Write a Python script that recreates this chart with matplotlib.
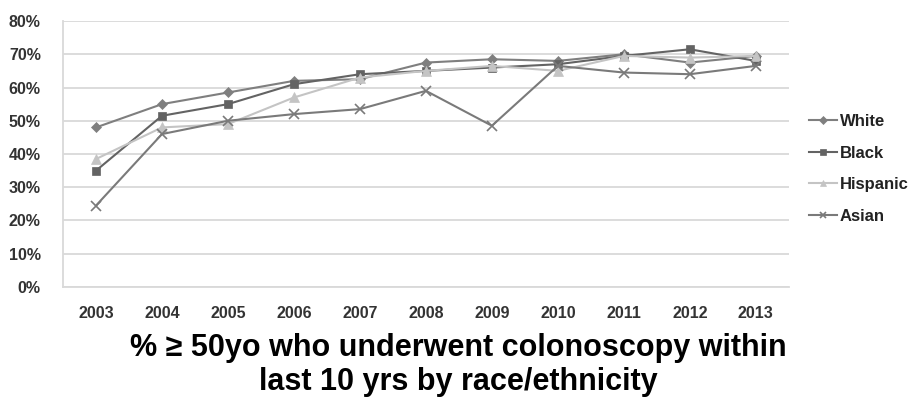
import matplotlib
matplotlib.use('Agg')
import matplotlib.pyplot as plt
from matplotlib.ticker import PercentFormatter

# Colonoscopy rates (%) by year and race/ethnicity
years = ['2003', '2004', '2005', '2006', '2007', '2008', '2009', '2010', '2011', '2012', '2013']
white = [48, 55, 58.5, 62, 62.5, 67.5, 68.5, 68, 70, 67.5, 69.5]
black = [35, 51.5, 55, 61, 64, 65, 66, 67, 69.5, 71.5, 68]
hispanic = [38.5, 48, 49, 57, 63, 65, 66.5, 65, 69.5, 69, 69.5]
asian = [24.5, 46, 50, 52, 53.5, 59, 48.5, 66.5, 64.5, 64, 66.5]

y_ticks = [0, 10, 20, 30, 40, 50, 60, 70, 80]

series = [
    ('White', white, '#7f7f7f', 'D', 5.5),
    ('Black', black, '#636363', 's', 6),
    ('Hispanic', hispanic, '#c4c4c4', '^', 6.5),
    ('Asian', asian, '#7a7a7a', 'x', 7),
]

fig = plt.figure(figsize=(9.14, 4.01), dpi=100)
ax = fig.add_axes([0.069, 0.2843, 0.794, 0.6633])

x = list(range(len(years)))
for name, vals, col, mk, ms in series:
    ax.plot(x, vals, color=col, linewidth=1.5, marker=mk, markersize=ms,
            markeredgewidth=1.2 if mk == 'x' else 0.5, markeredgecolor=col,
            markerfacecolor=col, label=name, zorder=3)

ax.set_xlim(-0.5, len(years) - 0.5)
ax.set_ylim(0, 80)
ax.set_yticks(y_ticks)
ax.yaxis.set_major_formatter(PercentFormatter(decimals=0))
ax.set_xticks(x)
ax.set_xticklabels(years)
ax.grid(axis='y', color='#d9d9d9', linewidth=1.3, zorder=0)
ax.set_axisbelow(True)
for side in ['top', 'right']:
    ax.spines[side].set_visible(False)
for side in ['left', 'bottom']:
    ax.spines[side].set_color('#d9d9d9')
    ax.spines[side].set_linewidth(1.3)
ax.tick_params(length=0, labelsize=11.5, labelcolor='#333333')
ax.tick_params(axis='y', pad=16)
ax.tick_params(axis='x', pad=14)
for lbl in ax.get_xticklabels() + ax.get_yticklabels():
    lbl.set_fontweight('bold')
    lbl.set_family('Liberation Sans')

leg = fig.legend(loc='upper left', bbox_to_anchor=(0.885, 0.716), frameon=False,
                 borderpad=0, borderaxespad=0, markerscale=0.7,
                 handlelength=1.7, handletextpad=0.15, labelspacing=1.0,
                 prop={'family': 'Liberation Sans', 'weight': 'bold', 'size': 12})
for t in leg.get_texts():
    t.set_color('#222222')

fig.text(0.501, 0.113, '% \u2265 50yo who underwent colonoscopy within',
         ha='center', va='baseline', fontsize=22, fontweight='bold',
         family=['Liberation Sans', 'DejaVu Sans'], color='#000000')
fig.text(0.501, 0.027, 'last 10 yrs by race/ethnicity',
         ha='center', va='baseline', fontsize=22, fontweight='bold',
         family=['Liberation Sans', 'DejaVu Sans'], color='#000000')

fig.savefig('out.png', dpi=100)
